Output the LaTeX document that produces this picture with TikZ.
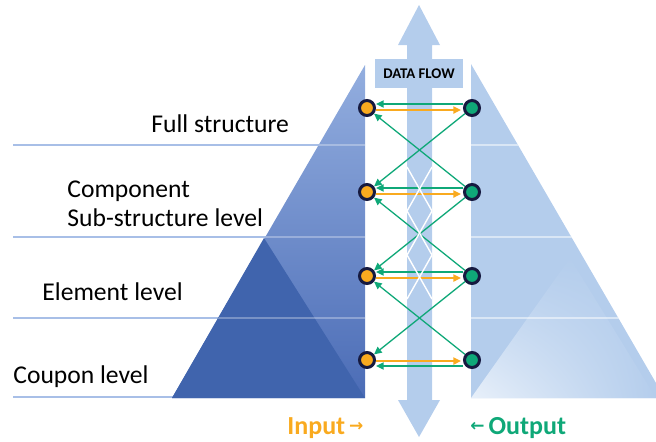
\documentclass[tikz,border=0pt]{standalone}
\usepackage{fontspec}
\setmainfont{Carlito}
\newfontfamily\symfont{DejaVu Sans}
\usetikzlibrary{arrows.meta,shadings}

\definecolor{pyrtop}{HTML}{93AEDF}
\definecolor{pyrbot}{HTML}{4B6CB6}
\definecolor{pyrdark}{HTML}{4064AD}
\definecolor{paleblue}{HTML}{B4CDEC}
\definecolor{palewhite}{HTML}{E8F0FA}
\definecolor{rulecol}{HTML}{A8BFE7}
\definecolor{inorange}{HTML}{F9AA1F}
\definecolor{outgreen}{HTML}{0FA878}
\definecolor{navy}{HTML}{161A40}

\tikzset{
  levelrule/.style={rulecol, line width=0.7pt},
  sheen/.style={white, line width=1pt},
  port/.style={circle, draw=navy, line width=1.5pt, minimum size=7.5pt, inner sep=0pt},
  inport/.style={port, fill=inorange},
  outport/.style={port, fill=outgreen},
  flowarrow/.style={line width=0.65pt, -{Triangle[length=3.8pt,width=3.6pt]}},
  garrow/.style={flowarrow, outgreen},
  oarrow/.style={flowarrow, inorange, shorten >=1pt},
  levellabel/.style={anchor=base west, inner sep=0pt, font=\fontsize{12.8}{15}\selectfont},
  legend/.style={anchor=base west, inner sep=0pt, font=\fontsize{13}{15}\selectfont\bfseries},
}

\begin{document}
\begin{tikzpicture}[x=0.5pt,y=-0.5pt]
\useasboundingbox (0,0) rectangle (656,441);

% level rules on the left
\draw[levelrule] (13,145) -- (365,145);
\draw[levelrule] (13,237) -- (365,237);
\draw[levelrule] (13,318) -- (365,318);
\draw[levelrule] (13,397) -- (365,397);

% left half pyramid
\shade[top color=pyrtop, bottom color=pyrbot] (365,65) -- (172,398) -- (365,398) -- cycle;
\fill[pyrdark] (264,238) -- (172,398) -- (365,398) -- cycle;
\begin{scope}
  \clip (365,65) -- (172,398) -- (365,398) -- cycle;
  \draw[sheen, opacity=0.3] (150,145) -- (365,145);
  \draw[sheen, opacity=0.3] (150,237) -- (365,237);
  \draw[sheen, opacity=0.3] (150,318) -- (365,318);
\end{scope}

% right half pyramid
\fill[paleblue] (471,64) -- (471,398) -- (656,398) -- (656,383) -- cycle;
\begin{scope}
  \clip (471,64) -- (471,398) -- (656,398) -- (656,383) -- cycle;
  \shade[lower left=palewhite, upper left=paleblue, upper right=paleblue, lower right=paleblue]
    (471,398) -- (570,258) -- (656,398) -- cycle;
  \draw[sheen, opacity=0.5] (471,145) -- (656,145);
  \draw[sheen, opacity=0.5] (471,237) -- (656,237);
  \draw[sheen, opacity=0.5] (471,318) -- (656,318);
\end{scope}

% double-headed data flow arrow
\fill[paleblue] (419,5) -- (440,45) -- (432,45) -- (432,400) -- (440,400) -- (419,437)
  -- (398,400) -- (407,400) -- (407,45) -- (398,45) -- cycle;
\node[fill=paleblue, minimum width=44pt, minimum height=14.5pt, inner sep=0pt,
  font=\fontsize{7.4}{8}\selectfont\bfseries] (flow) at (419,73.5) {DATA FLOW};

% ports
\foreach \i/\y in {1/108, 2/192, 3/276, 4/360} {
  \node[inport] (o\i) at (367,\y) {};
  \node[outport] (g\i) at (472,\y) {};
}

% horizontal exchanges
\foreach \i in {1,2,3} {
  \draw[garrow] ([yshift=2pt]g\i.west) -- ([yshift=2pt]o\i.east);
  \draw[oarrow] ([yshift=-1pt]o\i.east) -- ([yshift=-1pt]g\i.west);
}
\draw[oarrow] ([yshift=-0.5pt]o4.east) -- ([yshift=-0.5pt]g4.west);
\draw[garrow] ([yshift=-3pt]g4.west) -- ([yshift=-3pt]o4.east);

% crossing exchanges between neighbouring levels
\foreach \i/\j in {1/2, 2/3, 3/4} {
  \draw[garrow] (g\i) -- (o\j);
  \draw[garrow] (g\j) -- (o\i);
}

% white lattice on the shaft
\begin{scope}
  \clip (407,45) rectangle (432,400);
  \draw[white, line width=0.7pt] (407,167) -- (432,211) -- (407,255) -- (432,299);
  \draw[white, line width=0.7pt] (432,167) -- (407,211) -- (432,255) -- (407,299);
\end{scope}

% level labels
\node[levellabel] (full) at (151,132) {Full structure};
\node[levellabel] (comp) at (67,197) {Component};
\node[levellabel] (subs) at (67,226) {Sub-structure level};
\node[levellabel] (elem) at (42,300) {Element level};
\node[levellabel] (coup) at (13,383) {Coupon level};

% legend
\node[legend, text=inorange] (inlab) at (287,434)
  {Input\kern2pt{\symfont\fontsize{8.5}{9}\selectfont\raisebox{1.2pt}{→}}};
\node[legend, text=outgreen] (outlab) at (470,434)
  {{\symfont\fontsize{8.5}{9}\selectfont\raisebox{1.2pt}{←}}\kern2pt Output};
\end{tikzpicture}
\end{document}
